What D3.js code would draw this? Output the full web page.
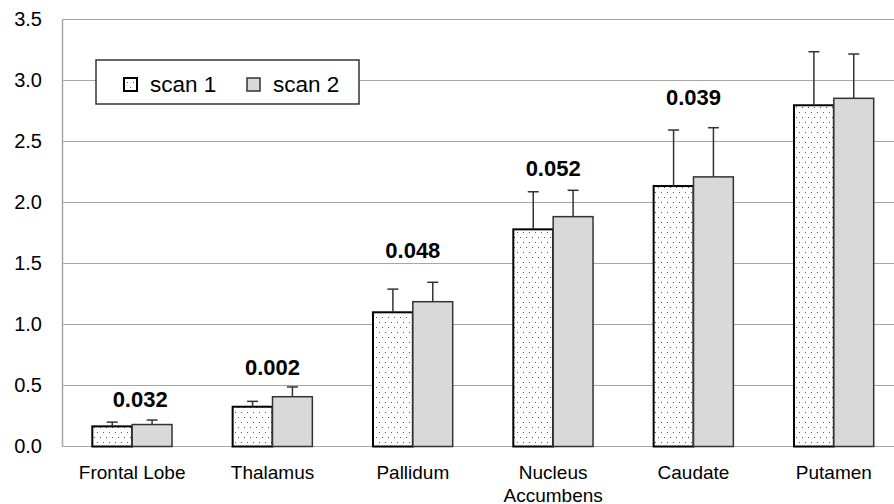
<!DOCTYPE html>
<html lang="en">
	<head>
		<meta charset="utf-8">
		<title>Scan 1 vs Scan 2 by Region</title>
		<style type="text/css">

			body { margin: 0; background: #fff; }
			svg { display: block; font-family: "Liberation Sans", Arial, sans-serif; }
			.grid line { stroke: #a6a6a6; stroke-width: 1.5; shape-rendering: crispEdges; }
			.tick text { fill: #000; }

		</style>
	</head>
	<body>

		<!-- load the d3.js library -->
		<script src="https://cdn.jsdelivr.net/npm/d3@7/dist/d3.min.js"></script>
		<script>

			//The data
			var regions = ["Frontal Lobe", "Thalamus", "Pallidum", "Nucleus\nAccumbens", "Caudate", "Putamen"];
			var series = ["scan 1", "scan 2"];
			var scan1 = [0.165, 0.326, 1.10, 1.78, 2.135, 2.797];
			var scan1Err = [0.035, 0.044, 0.19, 0.308, 0.459, 0.439];
			var scan2 = [0.18, 0.408, 1.187, 1.884, 2.21, 2.854];
			var scan2Err = [0.037, 0.08, 0.159, 0.216, 0.403, 0.363];
			var pValues = ["0.032", "0.002", "0.048", "0.052", "0.039", ""];
			var yTicks = [0, 0.5, 1.0, 1.5, 2.0, 2.5, 3.0, 3.5];

			//Set the dimensions and margins of the graph
			var W = 894, H = 504;
			var margin = {top: 19.5, left: 62, bottom: 57.5};
			var plotRight = 904; // the plot runs past the right edge of the picture

			var svg = d3.select("body").append("svg")
			    .attr("width", W)
			    .attr("height", H);

			//Scales
			var xScale = d3.scaleBand()
			    .domain(regions)
			    .range([margin.left, plotRight])
			    .padding(0);

			var barW = xScale.bandwidth() * 0.284;

			var yScale = d3.scaleLinear()
			    .domain([0, 3.5])
			    .range([H - margin.bottom, margin.top]);

			//Dotted fill for scan 1
			var defs = svg.append("defs");
			var pat = defs.append("pattern")
			    .attr("id", "dots")
			    .attr("patternUnits", "userSpaceOnUse")
			    .attr("width", 6)
			    .attr("height", 10);
			pat.append("rect").attr("width", 6).attr("height", 10).attr("fill", "#fff");
			pat.append("rect").attr("x", 1).attr("y", 2).attr("width", 1).attr("height", 1).attr("fill", "#555");
			pat.append("rect").attr("x", 4).attr("y", 7).attr("width", 1).attr("height", 1).attr("fill", "#555");

			//Horizontal gridlines
			svg.append("g")
			    .attr("class", "grid")
			    .selectAll("line")
			    .data(yTicks)
			  .enter().append("line")
			    .attr("x1", margin.left)
			    .attr("x2", plotRight)
			    .attr("y1", function(d) { return yScale(d); })
			    .attr("y2", function(d) { return yScale(d); });

			//Y axis
			var yAxis = d3.axisLeft(yScale)
			    .tickValues(yTicks)
			    .tickFormat(d3.format(".1f"))
			    .tickSize(0)
			    .tickPadding(20);

			var gy = svg.append("g")
			    .attr("transform", "translate(" + margin.left + ",0)")
			    .call(yAxis);
			gy.select(".domain").attr("stroke", "#a6a6a6").attr("stroke-width", 1.5);
			gy.selectAll("text").attr("font-size", 20).attr("font-family", "Liberation Sans, Arial, sans-serif");

			//X axis labels (wrap on newline)
			var gx = svg.append("g");
			regions.forEach(function(r) {
			  var lines = r.split("\n");
			  var t = gx.append("text")
			      .attr("text-anchor", "middle")
			      .attr("font-size", 19)
			      .attr("fill", "#000");
			  lines.forEach(function(l, i) {
			    t.append("tspan")
			        .attr("x", xScale(r) + xScale.bandwidth() / 2)
			        .attr("y", H - margin.bottom + 32 + i * 23)
			        .text(l);
			  });
			});

			//Bars
			var rows = regions.map(function(r, i) {
			  return {region: r, v1: scan1[i], e1: scan1Err[i], v2: scan2[i], e2: scan2Err[i], p: pValues[i], i: i};
			});

			var cx = function(d) { return xScale(d.region) + xScale.bandwidth() / 2; };

			svg.selectAll(".bar1")
			    .data(rows)
			  .enter().append("rect")
			    .attr("class", "bar1")
			    .attr("x", function(d) { return cx(d) - barW; })
			    .attr("width", barW)
			    .attr("y", function(d) { return yScale(d.v1); })
			    .attr("height", function(d) { return yScale(0) - yScale(d.v1); })
			    .attr("fill", "url(#dots)")
			    .attr("stroke", "#000")
			    .attr("stroke-width", 2);

			svg.selectAll(".bar2")
			    .data(rows)
			  .enter().append("rect")
			    .attr("class", "bar2")
			    .attr("x", function(d) { return cx(d); })
			    .attr("width", barW)
			    .attr("y", function(d) { return yScale(d.v2); })
			    .attr("height", function(d) { return yScale(0) - yScale(d.v2); })
			    .attr("fill", "#d9d9d9")
			    .attr("stroke", "#333")
			    .attr("stroke-width", 1.5);

			//Error bars (plus side only)
			var errs = [];
			rows.forEach(function(d) {
			  errs.push({x: cx(d) - barW / 2, v: d.v1, e: d.e1});
			  errs.push({x: cx(d) + barW / 2, v: d.v2, e: d.e2});
			});

			var eg = svg.append("g")
			    .attr("stroke", "#333")
			    .attr("stroke-width", 1.5);
			eg.selectAll(".stem")
			    .data(errs)
			  .enter().append("line")
			    .attr("x1", function(d) { return d.x; })
			    .attr("x2", function(d) { return d.x; })
			    .attr("y1", function(d) { return yScale(d.v); })
			    .attr("y2", function(d) { return yScale(d.v + d.e); });
			eg.selectAll(".cap")
			    .data(errs)
			  .enter().append("line")
			    .attr("x1", function(d) { return d.x - 5.5; })
			    .attr("x2", function(d) { return d.x + 5.5; })
			    .attr("y1", function(d) { return yScale(d.v + d.e); })
			    .attr("y2", function(d) { return yScale(d.v + d.e); });

			//p-value labels above each pair (gap in px from highest cap to text middle)
			var labelGap = [21, 20, 32, 22, 31];
			var labelDx = [8, 0, 0, 0, 0];
			svg.selectAll(".plabel")
			    .data(rows.filter(function(d) { return d.p !== ""; }))
			  .enter().append("text")
			    .attr("class", "plabel")
			    .attr("x", function(d) { return cx(d) + labelDx[d.i]; })
			    .attr("y", function(d) {
			      var top = Math.max(d.v1 + d.e1, d.v2 + d.e2);
			      return yScale(top) - labelGap[d.i] + 8;
			    })
			    .attr("text-anchor", "middle")
			    .attr("font-size", 22)
			    .attr("font-weight", "bold")
			    .attr("fill", "#000")
			    .text(function(d) { return d.p; });

			//Legend
			var lg = svg.append("g");
			lg.append("rect")
			    .attr("x", 96)
			    .attr("y", 60)
			    .attr("width", 263)
			    .attr("height", 44)
			    .attr("fill", "#fff")
			    .attr("stroke", "#333")
			    .attr("stroke-width", 1.5);

			var legX = [124, 247];
			series.forEach(function(s, i) {
			  lg.append("rect")
			      .attr("x", legX[i])
			      .attr("y", 78)
			      .attr("width", 13)
			      .attr("height", 13)
			      .attr("fill", i === 0 ? "url(#dots)" : "#d9d9d9")
			      .attr("stroke", i === 0 ? "#000" : "#333")
			      .attr("stroke-width", i === 0 ? 2 : 1.5);
			  lg.append("text")
			      .attr("x", legX[i] + 26)
			      .attr("y", 92)
			      .attr("font-size", 22.5)
			      .attr("fill", "#000")
			      .text(s);
			});

		</script>
	</body>
</html>
